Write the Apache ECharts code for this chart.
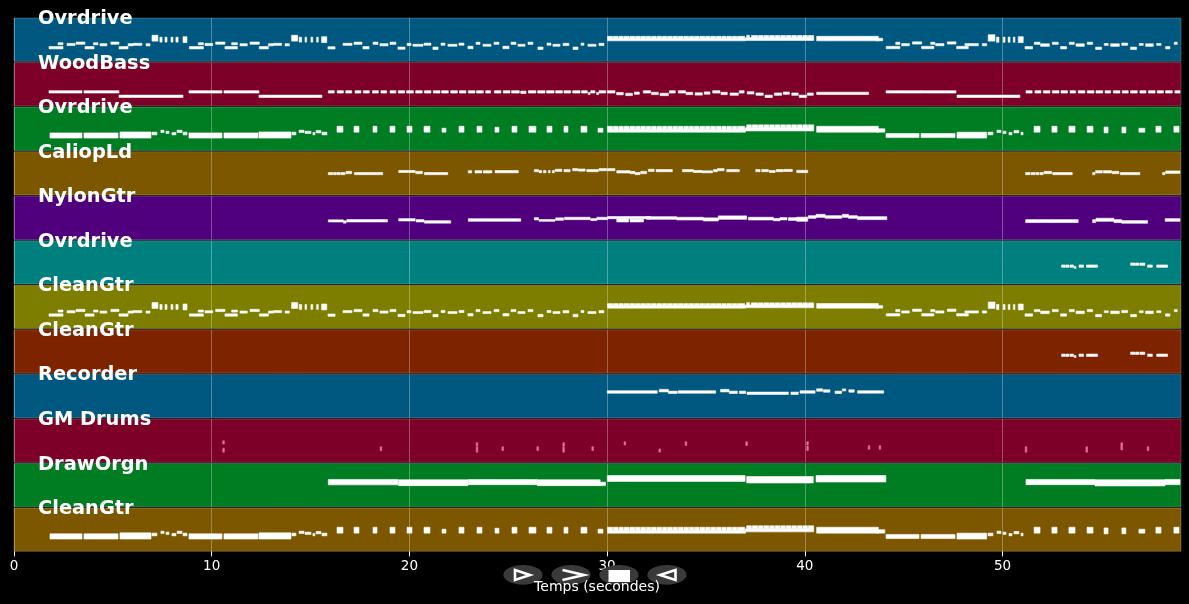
<!DOCTYPE html>
<html>
<head>
<meta charset="utf-8">
<style>
  html, body { margin: 0; background: #000; }
  #main { width: 1189px; height: 604px; }
</style>
<script src="https://cdn.jsdelivr.net/npm/echarts@6/dist/echarts.min.js"></script>
</head>
<body>
<div id="main"></div>
<script>
// every note is [start (s), end (s), low, high], low/high measured on a 0-44 pitch band per track
const TRACK_NAMES = ['Ovrdrive', 'WoodBass', 'Ovrdrive', 'CaliopLd', 'NylonGtr', 'Ovrdrive',
  'CleanGtr', 'CleanGtr', 'Recorder', 'GM Drums', 'DrawOrgn', 'CleanGtr'];
const TRACK_COLORS = ['#005880', '#7d0028', '#007c22', '#7d5600', '#50007d', '#007f7f',
  '#7d7d00', '#7d2300', '#005880', '#7d0028', '#007c22', '#7d5600'];
const X_TICKS = [0, 10, 20, 30, 40, 50];

const leadNotes = [
  [1.77,2.48,12.6,15],[2.23,2.48,16.8,18.9],[2.68,3.09,16,18.2],[3.14,3.59,17.3,19.6],[3.59,4.05,12.6,15],
  [4.02,4.25,16.8,18.9],[4.35,4.7,15.7,17.9],[4.9,5.31,17.3,19.6],[5.31,5.77,12.6,15],[5.77,6.02,15.7,17.9],
  [6.02,6.47,16.2,18.3],[6.68,6.88,15.7,17.9],[6.98,7.28,20.5,26.5],[7.38,7.49,19.5,24.5],[7.64,7.74,19.5,24.5],
  [7.94,8.04,19.5,24.5],[8.19,8.3,19.5,24.5],[8.55,8.75,19,25],
  [8.87,9.58,12.6,15],[9.32,9.58,16.8,18.9],[9.66,10.05,16,18.2],[10.2,10.67,17.3,19.6],[10.67,11.3,12.6,15],
  [11.01,11.3,16.8,18.9],[11.43,11.8,15.7,17.9],[11.94,12.41,17.3,19.6],[12.41,12.87,12.6,15],[12.87,13.12,15.7,17.9],
  [13.12,13.54,16.2,18.3],[13.71,13.93,15.7,17.9],[14.04,14.35,20.5,26.5],[14.43,14.55,19.5,24.5],[14.72,14.8,19.5,24.5],
  [15.02,15.11,19.5,24.5],[15.31,15.39,19.5,24.5],[15.56,15.82,19,25],
  [15.88,16.24,12.5,14.8],[16.64,17.1,16.2,18.3],[17.2,17.6,17.2,19.5],[17.65,17.96,12.6,15],[18.16,18.41,17.2,19.5],
  [18.51,18.92,15.7,17.9],[19.02,19.32,17.2,19.5],[19.42,19.78,12.2,14.5],[19.88,20.08,16,18.3],[20.18,20.69,15.3,17.3],
  [20.74,21.09,16.3,18.5],[21.19,21.45,12,14.5],[21.6,21.8,16.3,18.5],[21.95,22.41,15.3,17.3],[22.51,22.76,16.3,18.5],
  [22.96,23.22,12.8,15.3],[23.37,23.57,17.2,19.4],[23.72,24.13,15.3,17.3],[24.28,24.53,17.2,19.4],[24.73,25.04,12.8,15.3],
  [25.14,25.39,17.2,19.4],[25.49,25.85,15.3,17.3],[26.0,26.25,17.2,19.4],[26.5,26.76,12,14.5],[26.96,27.16,16.3,18.5],
  [27.26,27.62,15.3,17.3],[27.77,28.07,16,18.3],[28.28,28.53,12,14.5],[28.68,28.83,16.3,18.5],[29.03,29.44,15.3,17.3],
  [29.59,29.84,16,18.3],
  // dense chords 30-44
  [30.02,37.0,20.8,23.4],[37.0,40.45,21.2,24],[40.6,43.72,20.8,25.4],[43.6,43.94,20.8,23.4],
  [30.02,30.28,23.4,25.4],[30.32,30.56,23.4,25.4],[30.6,30.82,23.4,25.4],[30.86,31.12,23.4,25.4],[31.16,31.4,23.4,25.4],
  [31.44,31.66,23.4,25.4],[31.7,31.94,23.4,25.4],[31.98,32.2,23.4,25.4],[32.24,32.48,23.4,25.4],[32.52,32.76,23.4,25.4],
  [32.8,33.02,23.4,25.4],[33.06,33.3,23.4,25.4],[33.34,33.56,23.4,25.4],[33.6,33.84,23.4,25.4],[33.88,34.12,23.4,25.4],
  [34.16,34.38,23.4,25.4],[34.42,34.66,23.4,25.4],[34.7,34.94,23.4,25.4],[34.98,35.2,23.4,25.4],[35.24,35.48,23.4,25.4],
  [35.52,35.76,23.4,25.4],[35.8,36.02,23.4,25.4],[36.06,36.3,23.4,25.4],[36.34,36.56,23.4,25.4],[36.6,36.96,23.4,25.4],
  [37.06,37.2,24,26.4],[37.3,37.62,24,26.2],[37.66,37.9,24,26.2],[37.94,38.18,24,26.2],[38.22,38.46,24,26.2],
  [38.5,38.74,24,26.2],[38.78,39.02,24,26.2],[39.06,39.3,24,26.2],[39.34,39.58,24,26.2],[39.62,39.86,24,26.2],
  [39.9,40.14,24,26.2],[40.18,40.45,24,26.2],
  [44.12,44.81,12.8,15.2],[44.6,44.81,17.2,19.4],[44.9,45.29,15.8,18],[45.45,45.91,17.5,19.8],[45.91,46.53,12.8,15.2],
  [46.37,46.58,17.2,19.4],[46.62,47.04,15.8,18],[47.21,47.65,17.5,19.8],[47.68,48.27,12.8,15.2],[48.1,48.35,15.8,18],
  [48.35,48.78,15.8,18],[48.98,49.2,15.8,18],[49.28,49.62,20.5,27],[49.7,49.82,19.3,24.6],[50.04,50.13,19.3,24.6],
  [50.29,50.38,19.3,24.6],[50.55,50.63,19.3,24.6],[50.8,51.05,19,25],
  [51.14,51.52,12.6,15],[51.61,51.9,17.2,19.4],[51.93,52.37,15.2,17.8],[52.52,52.82,17.2,19.4],[52.94,53.24,12.6,15],
  [53.38,53.63,17.2,19.4],[53.72,54.14,15.2,17.8],[54.29,54.56,17.2,19.4],[54.71,55.01,12,14.4],[55.15,55.35,16.2,18.1],
  [55.47,55.91,15.2,17.8],[56.03,56.33,16.2,18.5],[56.48,56.78,12,14.4],[56.92,57.12,16.2,18.1],[57.24,57.63,15.2,17.8],
  [57.8,58.02,16.2,18.1],[58.25,58.47,12.6,15],[58.69,58.84,17.2,19.4]
];

const bassNotes = [
  [1.77,3.44,13,15.4],[3.54,5.31,13,15.4],[5.31,8.55,8.5,10.9],[8.85,10.52,13,15.4],[10.62,12.39,13,15.4],[12.39,15.58,8.5,10.9],
  [15.9,16.2,13,15.4],[16.35,16.66,13,15.4],[16.78,17.08,13,15.4],[17.25,17.55,13,15.4],[17.67,17.97,13,15.4],[18.13,18.43,13,15.4],
  [18.56,18.85,13,15.4],[19.02,19.32,13,15.4],[19.44,19.76,13,15.4],[19.86,20.2,13,15.4],[20.32,20.65,13,15.4],[20.76,21.09,13,15.4],
  [21.21,21.55,13,15.4],[21.63,21.97,13,15.4],[22.09,22.43,13,15.4],[22.53,22.86,13,15.4],[22.98,23.32,13,15.4],[23.4,23.74,13,15.4],
  [23.86,24.11,13,15.4],[24.3,24.63,13,15.4],[24.75,25.09,13,15.4],[25.17,25.56,13,15.4],[25.63,25.9,12.6,15],[26.02,26.4,13,15.4],
  [26.49,26.86,13,15.4],[26.94,27.32,13,15.4],[27.4,27.74,13,15.4],[27.82,28.16,13,15.4],[28.26,28.63,13,15.4],[28.71,29.0,13,15.4],
  [29.05,29.14,11.4,13.6],[29.17,29.39,13,15.4],[29.47,29.57,11.4,13.6],[29.59,29.93,13,15.4],
  [30.01,30.4,13,15.4],[30.48,30.82,11.2,13.6],[30.94,31.28,10.4,12.8],[31.38,31.63,11.7,14.1],[31.83,32.2,13,15.4],[32.25,32.59,11.4,13.8],
  [32.68,33.1,10.4,12.8],[33.15,33.45,13,15.4],[33.6,33.97,13,15.4],[33.99,34.33,11.4,13.8],[34.45,34.82,10.9,13.3],[34.92,35.2,11.8,14.2],
  [35.34,35.71,13,15.4],[35.76,36.08,11.4,13.8],[36.22,36.64,10.7,13.1],[36.69,36.93,13,15.4],[37.09,37.43,12,14.4],[37.53,37.9,10.7,13.1],
  [37.99,38.36,8.5,10.9],[38.46,38.83,10.7,13.1],[38.91,39.22,11.7,14.1],[39.34,39.67,10.7,13.1],[39.72,40.09,8.5,10.9],[40.13,40.43,10.7,13.1],
  [40.6,43.23,11.5,13.9],
  [44.11,45.88,13,15.4],[45.88,47.65,13,15.4],[47.7,50.88,8.5,10.9],
  [51.19,51.5,13,15.4],[51.64,51.95,13,15.4],[52.07,52.4,13,15.4],[52.52,52.86,13,15.4],[52.96,53.29,13,15.4],[53.42,53.7,13,15.4],
  [53.83,54.17,13,15.4],[54.29,54.63,13,15.4],[54.73,55.07,13,15.4],[55.19,55.47,13,15.4],[55.61,55.94,13,15.4],[56.06,56.36,13,15.4],
  [56.48,56.82,13,15.4],[56.95,57.26,13,15.4],[57.38,57.72,13,15.4],[57.83,58.14,13,15.4],[58.25,58.59,13,15.4],[58.72,58.98,13,15.4]
];

const rhythmNotes = [
  [1.82,3.44,12.5,17.8],[3.54,5.26,12.5,17.8],[5.36,6.93,12.5,18.8],[6.98,7.23,15.8,18.5],[7.43,7.59,18.2,20.5],[7.69,7.84,17.2,19.5],
  [7.99,8.19,15.8,18.2],[8.25,8.5,18.2,20.5],[8.55,8.75,15.8,18.5],
  [8.85,10.52,12.5,17.8],[10.62,12.34,12.5,17.8],[12.39,14.01,12.5,18.8],[14.06,14.26,15.8,18.5],[14.42,14.67,18.2,20.5],[14.72,15.02,17.2,19.5],
  [15.12,15.22,15.8,18.2],[15.28,15.53,17.8,20.2],[15.58,15.83,15.8,18.5],
  [16.34,16.64,18.5,24.5],[17.2,17.45,18.5,24.5],[18.16,18.36,18.5,24.5],[19.02,19.27,18.5,24.5],[19.88,20.13,18.5,24.5],[20.74,21.04,18.5,24.5],
  [21.65,21.85,18.5,22.5],[22.51,22.76,18.5,24.5],[23.42,23.67,18.5,24.5],[24.33,24.53,18.5,23.5],[25.19,25.44,18.5,24.5],[26.05,26.4,18.5,24.5],
  [26.96,27.21,18.5,24.5],[27.82,28.02,18.5,24.5],[28.68,28.98,18.5,24.5],[29.54,29.79,18.5,22.5],
  // dense chords 30-44
  [30.02,37.0,18.5,21.5],[37.0,40.45,19.8,23],[40.6,43.72,18.5,24.5],[43.65,44.05,18.5,22],
  [30.02,30.28,21.5,24.5],[30.32,30.56,21.5,24.5],[30.6,30.82,21.5,24.5],[30.86,31.12,21.5,24.5],[31.16,31.4,21.5,24.5],
  [31.44,31.66,21.5,24.5],[31.7,31.94,21.5,24.5],[31.98,32.2,21.5,24.5],[32.24,32.48,21.5,24.5],[32.52,32.76,21.5,24.5],
  [32.8,33.02,21.5,24.5],[33.06,33.3,21.5,24.5],[33.34,33.56,21.5,24.5],[33.6,33.84,21.5,24.5],[33.88,34.12,21.5,24.5],
  [34.16,34.38,21.5,24.5],[34.42,34.66,21.5,24.5],[34.7,34.94,21.5,24.5],[34.98,35.2,21.5,24.5],[35.24,35.48,21.5,24.5],
  [35.52,35.76,21.5,24.5],[35.8,36.02,21.5,24.5],[36.06,36.3,21.5,24.5],[36.34,36.56,21.5,24.5],[36.6,36.96,21.5,24.5],
  [37.06,37.3,23,26],[37.34,37.62,23,26],[37.66,37.9,23,26],[37.94,38.18,23,26],[38.22,38.46,23,26],[38.5,38.74,23,26],
  [38.78,39.02,23,26],[39.06,39.3,23,26],[39.34,39.58,23,26],[39.62,39.86,23,26],[39.9,40.14,23,26],[40.18,40.45,23,26],
  [44.11,45.78,13,17.2],[45.88,47.6,13,17.2],[47.7,49.2,12.5,18.5],[49.27,49.52,15.8,18.5],[49.72,49.92,18.2,20.5],[50.03,50.18,17.2,19.5],
  [50.33,50.48,15.8,18.2],[50.58,50.83,17.8,20.2],[50.94,51.04,15.8,18.5],
  [51.6,51.9,18.5,24.5],[52.5,52.76,18.5,24.5],[53.36,53.67,18.5,24.5],[54.28,54.58,18.5,24.5],[55.14,55.34,17.8,23.8],[56.04,56.24,17.8,23.8],
  [56.9,57.2,18.5,22.5],[57.76,58.02,18.5,24.5],[58.67,58.93,18.5,24.5]
];

const caliopeNotes = [
  [15.9,16.12,20.6,22.8],[16.16,16.29,20.6,22.8],[16.32,16.49,20.6,22.8],[16.53,16.75,20.6,22.8],[16.8,17.08,21.6,24],[17.22,18.65,20.6,22.8],
  [19.46,19.95,22.8,24.9],[19.97,20.29,22.8,24.9],[20.32,20.66,21.6,24],[20.76,21.94,20.6,22.8],
  [22.98,23.15,22.3,24.7],[23.32,23.66,22.3,24.7],[23.74,24.17,22.3,24.7],[24.33,25.51,22.5,24.8],
  [26.32,26.53,23.6,25.8],[26.56,26.69,22.5,24.8],[26.78,26.91,22.5,24.8],[27.03,27.12,22.5,24.8],[27.23,27.33,22.5,24.8],[27.37,27.71,23.9,26.1],
  [27.82,28.13,23.6,25.8],[28.26,28.52,24.6,26.8],[28.55,28.89,24.2,26.4],[28.97,29.56,23.6,25.8],[29.59,29.98,24.6,26.8],[30.02,30.4,24.6,26.8],
  [30.49,31.16,22.3,24.7],[31.16,31.41,21.6,24],[31.41,31.67,20.6,22.8],[31.7,32.0,21.6,24],[32.09,32.38,23.9,26.1],[32.48,33.3,23.6,25.8],
  [33.81,34.37,23.6,25.8],[34.37,34.79,22.8,24.9],[34.79,35.33,22.5,24.5],[35.38,35.58,23.6,25.8],[35.58,35.92,24.6,26.8],[36.05,36.69,23.6,25.8],
  [37.52,37.74,23.6,25.8],[37.82,38.16,23.6,25.8],[38.21,38.5,22.8,24.9],[38.55,38.92,23.6,25.8],[38.95,39.37,23.8,26],[39.59,40.15,22.7,25],
  [51.17,51.39,20.6,22.8],[51.44,51.64,20.6,22.8],[51.68,51.84,20.6,22.8],[51.89,52.06,20.6,22.8],[52.1,52.48,21.6,24],[52.54,53.53,20.6,22.8],
  [54.56,54.68,20.6,22.8],[54.71,55.05,22.3,24.7],[55.1,55.52,22.3,24.7],[55.55,55.89,21.6,24],[55.96,56.95,20.6,22.8],
  [58.1,58.22,20.6,22.8],[58.25,58.98,21.9,24.4]
];

const nylonNotes = [
  [15.9,16.66,17.8,20],[16.66,16.8,16.6,19],[16.83,18.89,17.8,20.2],
  [19.46,20.29,18.8,21.2],[20.34,20.74,17.8,20.2],[20.76,22.09,16.6,19.1],
  [22.98,25.63,18.5,21.2],
  [26.32,26.53,19.8,22.2],[26.56,27.37,18.5,20.3],[27.4,27.79,19.5,22],[27.84,29.14,20.2,22.6],[29.17,29.48,19.2,21.3],[29.48,30.02,20.2,22.6],
  [30.02,32.2,21.1,23.3],[30.49,31.08,17.8,20.9],[31.16,31.84,17.8,20.7],[32.0,33.52,20.5,23.2],[33.52,34.87,19.8,22.6],[34.87,35.63,18.8,22],
  [35.63,37.06,20.5,24],[37.15,38.41,19.8,22.6],[38.41,38.75,19,21.4],[38.75,39.1,19.9,22.3],[39.17,39.59,19.4,22.2],[39.59,40.15,18.5,22.7],
  [40.18,40.57,21.5,24.2],[40.57,41.03,22.5,25.6],[41.03,41.87,21.5,24.2],[41.9,42.21,22.5,25.6],[42.21,42.66,21.5,24.2],[42.66,44.15,20.2,23.2],
  [51.17,52.52,17.2,20.2],[52.52,53.83,17.2,20.2],
  [54.56,54.71,17.2,20.2],[54.73,55.64,18.5,21.6],[55.64,56.03,17.2,20.2],[56.03,57.34,16.5,19.2],
  [58.23,58.98,18.5,21.2]
];

const cleanHighNotes = [
  [52.99,53.16,17,19.4],[53.19,53.36,17,19.4],[53.41,53.6,17,19.4],[53.63,53.72,15.9,17.8],[53.87,54.1,17,19.4],[54.25,54.81,17,19.4],
  [56.48,56.7,19,21.4],[56.73,56.9,19,21.4],[56.95,57.2,19,21.4],[57.34,57.58,17,19.4],[57.8,58.35,17,19.4]
];

const recorderNotes = [
  [30.01,32.54,24.9,27.4],[32.64,33.1,26.2,28.8],[33.1,33.55,24.6,27],[33.6,35.49,24.9,27.4],
  [35.74,36.17,26.2,28.8],[36.18,36.59,24.6,27],[36.69,37.01,24.6,27],[37.08,39.17,23.6,26],[39.3,39.67,23.6,26],[39.76,40.52,24.9,27.4],
  [40.6,40.9,26.9,29.4],[40.94,41.27,25.9,28.4],[41.53,41.86,24.6,27],[41.9,42.07,27.2,29.3],[42.23,42.5,25.9,28.4],[42.67,43.99,24.9,27.4]
];

const drumNotes = [
  [10.56,10.64,18.5,21.8],[10.56,10.64,10.2,14.2],[18.52,18.6,11.8,15.8],[23.38,23.46,16.5,19.8],[23.38,23.46,10.2,15.8],
  [24.68,24.76,11.8,15.8],[26.45,26.53,11.8,15.8],[27.76,27.84,16.5,19.8],[27.76,27.84,10.2,15.8],[29.23,29.31,11.8,15.8],
  [30.86,30.94,17.5,20.8],[32.62,32.7,10.2,13.5],[33.95,34.03,17,20.8],[37.02,37.1,17,20.8],
  [40.1,40.18,17.5,20.8],[40.1,40.18,11.8,16.5],[43.21,43.29,13.2,16.8],[43.76,43.84,13.2,16.8],
  [51.15,51.23,10.2,15.8],[54.22,54.3,10.2,15.8],[55.99,56.07,12.5,19.8],[57.32,57.4,11.8,15.8]
];

const organNotes = [
  [15.9,19.42,22.3,27.8],[19.45,22.96,21.5,27.5],[22.98,26.47,22.5,27.7],[26.47,29.65,21.5,27.5],[29.65,29.92,21.5,25],
  [30.01,36.98,25.8,31.8],[37.06,40.43,24.2,30.8],[40.57,44.1,25.2,31.8],
  [51.19,54.68,22.5,27.8],[54.68,58.22,21.2,27.5],[58.22,58.98,22.5,27.8]
];

const TRACK_NOTES = [leadNotes, bassNotes, rhythmNotes, caliopeNotes, nylonNotes, cleanHighNotes,
  leadNotes, cleanHighNotes, recorderNotes, drumNotes, organNotes, rhythmNotes];

const FONT = '"DejaVu Sans"';
const ROW_TOP = 18, ROW_STEP = 44.55, ROW_HEIGHT = 43.3;

function renderNote(params, api) {
  const a = api.coord([api.value(0), api.value(3)]);
  const b = api.coord([api.value(1), api.value(2)]);
  const color = TRACK_NAMES[params.seriesIndex] === 'GM Drums' ? '#e8709c' : '#fff';
  return {
    type: 'rect',
    shape: { x: a[0], y: a[1], width: b[0] - a[0], height: b[1] - a[1] },
    style: { fill: color, stroke: color, lineWidth: 0.6 }
  };
}

const grids = [], xAxes = [], yAxes = [], series = [], titles = [];
TRACK_NAMES.forEach((name, i) => {
  const top = ROW_TOP + i * ROW_STEP;
  const last = i === TRACK_NAMES.length - 1;
  grids.push({
    left: 14, right: 8, top: top, height: ROW_HEIGHT, show: true,
    backgroundColor: TRACK_COLORS[i], borderColor: 'rgba(255,255,255,0.22)', borderWidth: 1
  });
  xAxes.push({
    gridIndex: i, type: 'value', min: 0, max: 59.03, interval: 10,
    axisLine: { show: false },
    axisTick: { show: last, length: 5, lineStyle: { color: '#fff' }, customValues: X_TICKS },
    axisLabel: { show: last, color: '#fff', fontFamily: FONT, fontSize: 13.5, margin: 8, customValues: X_TICKS },
    splitLine: { show: true, lineStyle: { color: 'rgba(255,255,255,0.3)', width: 1 } }
  });
  yAxes.push({ gridIndex: i, type: 'value', min: 0, max: 44, show: false });
  series.push({
    type: 'custom', xAxisIndex: i, yAxisIndex: i, data: TRACK_NOTES[i],
    encode: { x: [0, 1], y: [2, 3] }, renderItem: renderNote, silent: true, animation: false
  });
  titles.push({
    text: name, left: 38, top: top - 8.5, padding: 0,
    textStyle: { color: '#fff', fontFamily: FONT, fontSize: 19.4, fontWeight: 'bold' }
  });
});
titles.push({
  text: 'Temps (secondes)', left: 597, top: 580, textAlign: 'center', padding: 0,
  textStyle: { color: '#fff', fontFamily: FONT, fontSize: 14, fontWeight: 'normal' }
});

// player buttons under the axis
const PILL = { fill: '#3a3a3a' };
const ICON = { fill: 'none', stroke: '#fff', lineWidth: 2.6, lineJoin: 'miter' };
const buttons = [523, 571, 619, 667].map(cx => ({
  type: 'ellipse', z: 5, shape: { cx: cx, cy: 574.8, rx: 19.7, ry: 9.9 }, style: PILL
})).concat([
  { type: 'polygon', z: 5, shape: { points: [[515, 570], [530, 575], [515, 580]] }, style: ICON },
  { type: 'polyline', z: 5, shape: { points: [[562.5, 570], [584, 575], [562.5, 580]] }, style: ICON },
  { type: 'rect', z: 5, shape: { x: 608.5, y: 570, width: 21.5, height: 12 }, style: { fill: '#fff' } },
  { type: 'polygon', z: 5, shape: { points: [[675.5, 570], [660, 575], [675.5, 580]] }, style: ICON }
]);

const chart = echarts.init(document.getElementById('main'), null, { renderer: 'canvas' });
chart.setOption({
  backgroundColor: '#000',
  animation: false,
  title: titles,
  grid: grids,
  xAxis: xAxes,
  yAxis: yAxes,
  series: series,
  graphic: { elements: buttons }
});
</script>
</body>
</html>
